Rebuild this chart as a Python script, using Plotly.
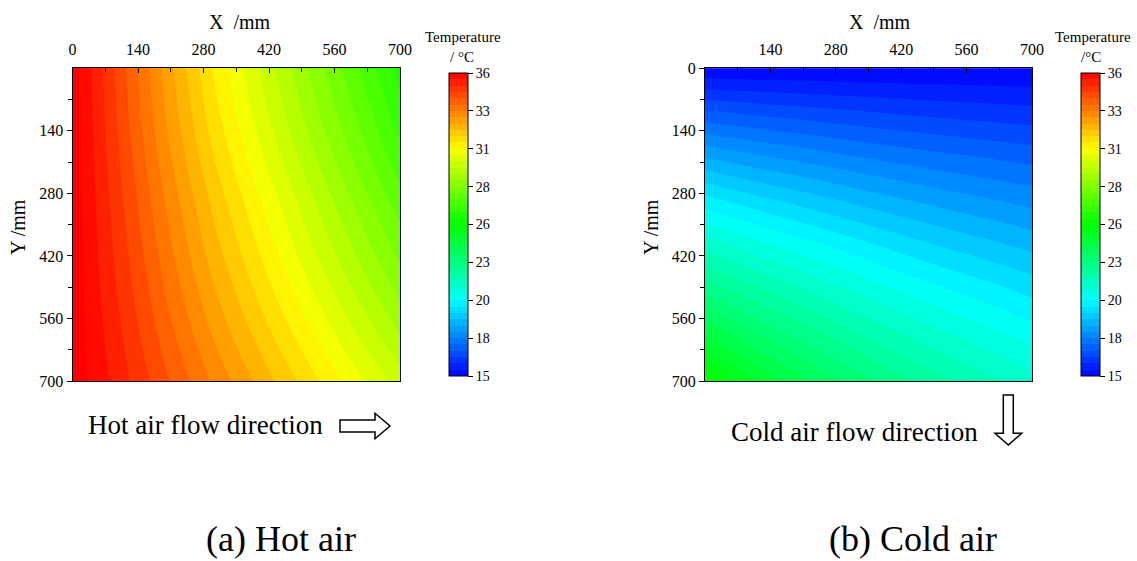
import plotly.graph_objects as go

# ---------------- data ----------------
x_mm = [0, 100, 200, 300, 400, 500, 600, 700]
y_mm = [0, 100, 200, 300, 400, 500, 600, 700]

# hot air temperature field, rows = Y (0..700), cols = X (0..700)
hot_T = [
    [36.3, 34.50, 32.75, 31.15, 29.85, 28.60, 27.40, 26.20],
    [36.3, 34.58, 32.90, 31.38, 30.10, 28.88, 27.72, 26.55],
    [36.3, 34.70, 33.10, 31.65, 30.42, 29.24, 28.10, 26.97],
    [36.3, 34.82, 33.34, 31.97, 30.79, 29.65, 28.55, 27.46],
    [36.3, 34.94, 33.55, 32.25, 31.13, 30.03, 28.98, 27.93],
    [36.3, 35.06, 33.78, 32.57, 31.50, 30.46, 29.45, 28.45],
    [36.3, 35.21, 34.04, 32.92, 31.91, 30.93, 29.97, 29.03],
    [36.3, 35.36, 34.32, 33.30, 32.36, 31.44, 30.54, 29.66],
]

# cold air temperature field, rows = Y (0..700), cols = X (0..700)
cold_T = [
    [15.02, 15.02, 15.02, 15.02, 15.02, 15.02, 15.02, 15.02],
    [16.85, 16.68, 16.54, 16.41, 16.29, 16.19, 16.11, 16.03],
    [18.50, 18.20, 17.95, 17.72, 17.51, 17.33, 17.18, 17.03],
    [20.05, 19.63, 19.28, 18.95, 18.65, 18.39, 18.16, 17.95],
    [21.45, 20.94, 20.52, 20.12, 19.74, 19.40, 19.11, 18.84],
    [22.85, 22.19, 21.68, 21.19, 20.75, 20.37, 20.04, 19.70],
    [24.30, 23.45, 22.80, 22.23, 21.71, 21.27, 20.88, 20.52],
    [25.70, 24.70, 23.95, 23.26, 22.66, 22.15, 21.71, 21.29],
]

hot_xticks = [0, 140, 280, 420, 560, 700]
hot_yticks = [140, 280, 420, 560, 700]
cold_xticks = [140, 280, 420, 560, 700]
cold_yticks = [0, 140, 280, 420, 560, 700]
minor_ticks = [70, 210, 350, 490, 630]

cbar_tickvals = [15, 17.625, 20.25, 22.875, 25.5, 28.125, 30.75, 33.375, 36]
cbar_ticktext = ["15", "18", "20", "23", "26", "28", "31", "33", "36"]
T_min, T_max = 15, 36
n_levels = 48

# ---------------- styling ----------------
W, H = 1137, 561
FONT = "Liberation Serif"
jet = [[0.0, "rgb(0,0,255)"], [0.25, "rgb(0,255,255)"], [0.5, "rgb(0,255,0)"],
       [0.75, "rgb(255,255,0)"], [1.0, "rgb(255,0,0)"]]


def px(x):
    return x / W


def py(y):
    return 1 - y / H


def cbar(xpos):
    return dict(
        x=px(xpos), xanchor="left", xpad=0, ypad=0,
        y=py(224.5), yanchor="middle", len=(376 - 73) / H, lenmode="fraction",
        thickness=19, thicknessmode="pixels",
        outlinewidth=1, outlinecolor="black",
        tickmode="array", tickvals=cbar_tickvals, ticktext=cbar_ticktext,
        ticks="outside", ticklen=5, tickcolor="black",
        tickfont=dict(family=FONT, size=14, color="black"),
    )


contour_common = dict(
    x=x_mm, y=y_mm, colorscale=jet, zmin=T_min, zmax=T_max,
    contours=dict(start=T_min, end=T_max, size=(T_max - T_min) / n_levels,
                  coloring="fill", showlines=False),
    line=dict(width=0, smoothing=1.0),
    ncontours=n_levels, autocontour=False,
)

fig = go.Figure()
fig.add_trace(go.Contour(z=hot_T, xaxis="x", yaxis="y", colorbar=cbar(449), **contour_common))
fig.add_trace(go.Contour(z=cold_T, xaxis="x2", yaxis="y2", colorbar=cbar(1081), **contour_common))

tickfont = dict(family=FONT, size=16, color="black")


def xaxis(dom, ticks, anchor):
    return dict(domain=dom, range=[0, 700], side="top", anchor=anchor, automargin=False,
                tickmode="array", tickvals=ticks, ticks="inside", ticklen=5,
                tickwidth=1, tickcolor="black",
                minor=dict(tickvals=minor_ticks, ticks="inside", ticklen=4, tickcolor="black"),
                showline=True, linecolor="black", linewidth=1, mirror=True,
                showgrid=False, zeroline=False, tickfont=tickfont, ticklabelstandoff=6)


def yaxis(ticks, anchor):
    return dict(domain=[py(381), py(68.3)], range=[700, 0], anchor=anchor, automargin=False,
                tickmode="array", tickvals=ticks, ticks="outside", ticklen=5,
                tickwidth=1, tickcolor="black",
                minor=dict(tickvals=minor_ticks, ticks="outside", ticklen=4, tickcolor="black"),
                showline=True, linecolor="black", linewidth=1, mirror=True,
                showgrid=False, zeroline=False, tickfont=tickfont)


def ann(text, x, y, size, **kw):
    d = dict(text=text, x=px(x), y=py(y), xref="paper", yref="paper",
             showarrow=False, xanchor="center", yanchor="middle",
             font=dict(family=FONT, size=size, color="black"))
    d.update(kw)
    return d


annotations = [
    ann("X  /mm", 239.5, 22, 20),
    ann("X  /mm", 879.5, 22, 20),
    ann("Y /mm", 18, 227, 20, textangle=-90),
    ann("Y /mm", 651, 227, 20, textangle=-90),
    ann("Temperature", 463, 37, 15),
    ann("/ °C", 461.5, 57, 15),
    ann("Temperature", 1092.5, 37, 15),
    ann("/°C", 1091, 57, 15),
    ann("Hot air flow direction", 205, 425, 27),
    ann("Cold air flow direction", 854.5, 432, 27),
    ann("(a) Hot air", 281, 560, 36, yanchor="bottom", borderpad=0),
    ann("(b) Cold air", 912.5, 560, 36, yanchor="bottom", borderpad=0),
]


def path(pts):
    s = "M " + " L ".join(f"{px(a):.5f},{py(b):.5f}" for a, b in pts) + " Z"
    return dict(type="path", path=s, xref="paper", yref="paper",
                line=dict(color="black", width=1.5), fillcolor="white")


shapes = [
    path([(340, 420), (375, 420), (375, 413.3), (390, 426), (375, 438.7), (375, 432), (340, 432)]),
    path([(1003.3, 395), (1013.3, 395), (1013.3, 433.3), (1021.7, 433.3), (1008.3, 445),
          (995, 433.3), (1003.3, 433.3)]),
]

fig.update_layout(
    template="none",
    width=W, height=H, margin=dict(l=0, r=0, t=0, b=0, pad=0, autoexpand=False),
    paper_bgcolor="white", plot_bgcolor="white",
    xaxis=xaxis([px(72.5), px(400)], hot_xticks, "y"),
    yaxis=yaxis(hot_yticks, "x"),
    xaxis2=xaxis([px(705), px(1032)], cold_xticks, "y2"),
    yaxis2=yaxis(cold_yticks, "x2"),
    annotations=annotations, shapes=shapes, showlegend=False,
)

fig.write_html(
    "out.html",
    config={"displayModeBar": False},
    post_script="document.documentElement.style.margin='0';"
                "document.body.style.margin='0';document.body.style.padding='0';"
                "document.body.style.overflow='hidden';",
)
